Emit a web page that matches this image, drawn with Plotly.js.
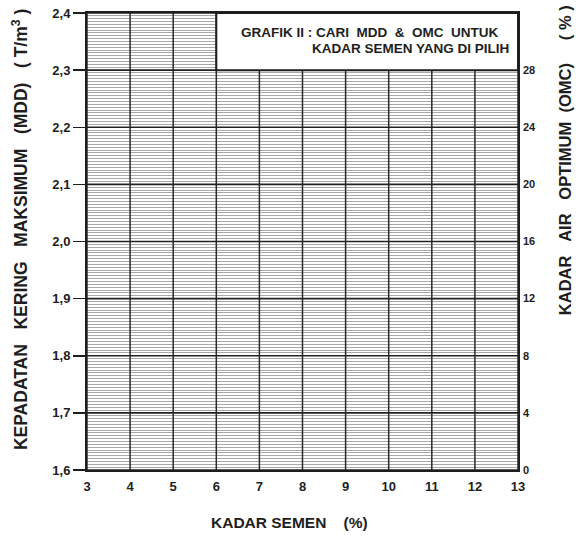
<!DOCTYPE html>
<html>
<head>
<meta charset="utf-8">
<script src="https://cdn.plot.ly/plotly-3.0.1.min.js"></script>
<style>html,body{margin:0;padding:0;background:#fff}#chart{width:580px;height:539px}</style>
</head>
<body>
<div id="chart"></div>
<script>
// Axis data
const xTicks = [3, 4, 5, 6, 7, 8, 9, 10, 11, 12, 13];
const mddTicks = [1.6, 1.7, 1.8, 1.9, 2.0, 2.1, 2.2, 2.3, 2.4];
const omcTicks = [0, 4, 8, 12, 16, 20, 24, 28];
const xRange = [3, 13];
const mddRange = [1.6, 2.4];
const omcRange = [0, 32];
const boxX = [6, 13];
const boxY = [2.3, 2.4];
const boxLine1 = "GRAFIK II : CARI&nbsp;&nbsp;MDD&nbsp;&nbsp;&amp;&nbsp;&nbsp;OMC&nbsp;&nbsp;UNTUK";
const boxLine2 = "KADAR SEMEN YANG DI PILIH";
const xTitle = "KADAR&nbsp;SEMEN&nbsp;&nbsp;&nbsp;&nbsp;(%)";
const yTitle = "KEPADATAN&nbsp;&nbsp;&nbsp;KERING&nbsp;&nbsp;&nbsp;MAKSIMUM&nbsp;&nbsp;&nbsp;(MDD)&nbsp;&nbsp;&nbsp;( T/m<sup>3</sup> )";
const y2Title = "KADAR&nbsp;&nbsp;&nbsp;AIR&nbsp;&nbsp;&nbsp;OPTIMUM&nbsp;&nbsp;(OMC)&nbsp;&nbsp;&nbsp;&nbsp;&nbsp;( % )";

const FONT = "Liberation Sans, Arial, sans-serif";
const INK = "#1e1e1e";

const data = [
  {x: [xRange[0]], y: [null], type: 'scatter', mode: 'lines', xaxis: 'x', yaxis: 'y', showlegend: false, hoverinfo: 'skip'},
  {x: [xRange[0]], y: [null], type: 'scatter', mode: 'lines', xaxis: 'x', yaxis: 'y2', showlegend: false, hoverinfo: 'skip'}
];

// major grid lines at the tick values, drawn over the dense minor grid
const majorLines = mddTicks.map(v => ({
  type: 'line', xref: 'paper', yref: 'y', x0: 0, x1: 1, y0: v, y1: v,
  line: {color: '#222', width: 1.6}, layer: 'above'
}));
const verticalLines = xTicks.map(v => ({
  type: 'line', xref: 'x', yref: 'paper', x0: v, x1: v, y0: 0, y1: 1,
  line: {color: '#2a2a2a', width: 1.5}, layer: 'above'
}));

const layout = {
  width: 580, height: 539,
  margin: {l: 87, r: 62, t: 13, b: 69},
  paper_bgcolor: '#fff', plot_bgcolor: '#fff',
  separators: ',.',
  showlegend: false,
  font: {family: FONT, size: 12, color: INK},
  xaxis: {
    range: xRange, tickvals: xTicks, ticktext: xTicks.map(String),
    showgrid: false,
    zeroline: false, showline: true, linecolor: INK, linewidth: 2, mirror: true,
    ticks: '', ticklabelstandoff: 3,
    tickfont: {family: FONT, size: 13, color: INK, weight: 'bold'}
  },
  yaxis: {
    range: mddRange, tickvals: mddTicks, ticktext: mddTicks.map(v => v.toFixed(1).replace('.', ',')),
    showgrid: false,
    minor: {dtick: 0.005, showgrid: true, gridcolor: '#a8a8a8', gridwidth: 1, ticks: ''},
    zeroline: false, showline: true, linecolor: INK, linewidth: 2, mirror: true,
    ticks: 'outside', ticklen: 12, tickwidth: 1.5, tickcolor: INK,
    tickfont: {family: FONT, size: 13, color: INK, weight: 'bold'}
  },
  yaxis2: {
    range: omcRange, tickvals: omcTicks, ticktext: omcTicks.map(String),
    overlaying: 'y', side: 'right', showgrid: false, zeroline: false, showline: false,
    ticks: '', ticklabelstandoff: 4,
    tickfont: {family: FONT, size: 11, color: INK, weight: 'bold'}
  },
  shapes: verticalLines.concat(majorLines).concat([
    {type: 'rect', xref: 'x', yref: 'y', x0: boxX[0], x1: boxX[1], y0: boxY[0], y1: boxY[1],
     fillcolor: '#fff', line: {color: INK, width: 2}, layer: 'above'}
  ]),
  annotations: [
    {xref: 'x', yref: 'y', x: 12.58, y: 2.365, text: boxLine1, showarrow: false, xanchor: 'right', yanchor: 'middle',
     font: {family: FONT, size: 13.5, color: INK, weight: 'bold'}},
    {xref: 'x', yref: 'y', x: 12.84, y: 2.337, text: boxLine2, showarrow: false, xanchor: 'right', yanchor: 'middle',
     font: {family: FONT, size: 13.5, color: INK, weight: 'bold'}},
    {xref: 'paper', yref: 'paper', x: 0.469, y: 0, yshift: -52, text: xTitle, showarrow: false,
     xanchor: 'center', yanchor: 'middle', font: {family: FONT, size: 15.5, color: INK, weight: 'bold'}},
    {xref: 'paper', yref: 'paper', x: 0, xshift: -67, y: 0.525, text: yTitle, showarrow: false, textangle: -90,
     xanchor: 'center', yanchor: 'middle', font: {family: FONT, size: 17.5, color: INK, weight: 'bold'}},
    {xref: 'paper', yref: 'paper', x: 1, xshift: 47, y: 0.678, text: y2Title, showarrow: false, textangle: -90,
     xanchor: 'center', yanchor: 'middle', font: {family: FONT, size: 16.5, color: INK, weight: 'bold'}}
  ]
};

Plotly.newPlot('chart', data, layout, {displayModeBar: false, staticPlot: true});
</script>
</body>
</html>
